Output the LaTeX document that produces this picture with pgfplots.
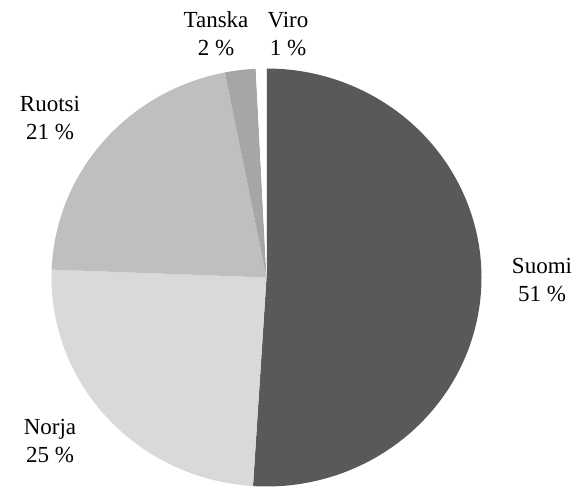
\documentclass[border=0pt]{standalone}
\usepackage{fontspec}
\setmainfont{Liberation Serif}
\usepackage{pgfplots}
\pgfplotsset{compat=1.18}
\definecolor{cSuomi}{HTML}{595959}
\definecolor{cNorja}{HTML}{D9D9D9}
\definecolor{cRuotsi}{HTML}{BFBFBF}
\definecolor{cTanska}{HTML}{A6A6A6}
\definecolor{cViro}{HTML}{FFFFFF}

% osuudet (%), myötäpäivään klo 12:sta alkaen
\def\pSuomi{51.0}
\def\pNorja{24.6}
\def\pRuotsi{21.3}
\def\pTanska{2.3}
\def\pViro{0.8}

\newcommand\slice[3]{%
  \addplot[fill=#1, draw=none, domain=#3:#2, samples=150, variable=\t]
    ({266.5+215*cos(t)},{-277.5+209*sin(t)}) -- (axis cs:266.5,-277.5) -- cycle;}

\begin{document}
\begin{tikzpicture}[lbl/.style={font=\fontsize{23bp}{28bp}\selectfont, align=center, text=black, inner sep=0pt}]
\pgfmathsetmacro\aA{90}
\pgfmathsetmacro\aB{\aA-3.6*\pSuomi}
\pgfmathsetmacro\aC{\aB-3.6*\pNorja}
\pgfmathsetmacro\aD{\aC-3.6*\pRuotsi}
\pgfmathsetmacro\aE{\aD-3.6*\pTanska}
\pgfmathsetmacro\aF{\aE-3.6*\pViro}
\useasboundingbox (0,0) rectangle (576bp,487bp);
\begin{axis}[at={(0,0)}, anchor=south west, scale only axis,
  width=576bp, height=487bp, xmin=0, xmax=576, ymin=-487, ymax=0,
  hide axis, clip=false]
  \slice{cSuomi}{\aA}{\aB}
  \slice{cNorja}{\aB}{\aC}
  \slice{cRuotsi}{\aC}{\aD}
  \slice{cTanska}{\aD}{\aE}
  \slice{cViro}{\aE}{\aF}
  \node[lbl] at (axis cs:542,-280) {Suomi\\51 \%};
  \node[lbl] at (axis cs:50,-441) {Norja\\25 \%};
  \node[lbl] at (axis cs:50,-118) {Ruotsi\\21 \%};
  \node[lbl] at (axis cs:216,-34) {Tanska\\2 \%};
  \node[lbl] at (axis cs:288,-34) {Viro\\1 \%};
\end{axis}
\end{tikzpicture}
\end{document}
